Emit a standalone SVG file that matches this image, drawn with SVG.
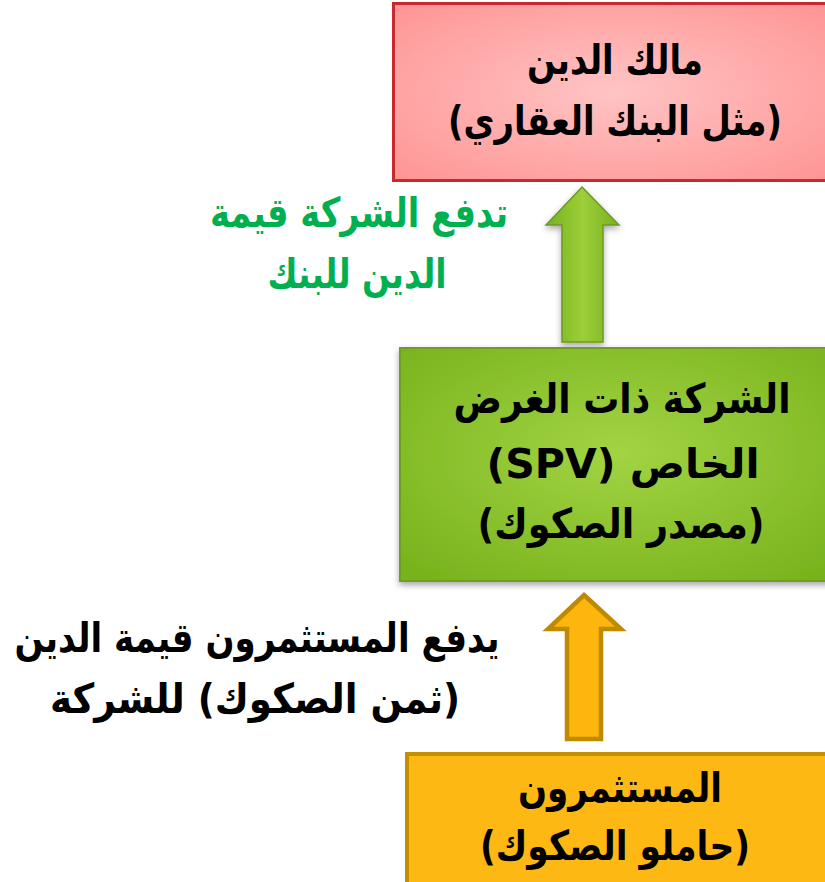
<svg xmlns="http://www.w3.org/2000/svg" width="825" height="882" viewBox="0 0 825 882">
<defs>
<radialGradient id="gRed" cx="0.5" cy="0.5" r="0.7">
<stop offset="0" stop-color="#FFC4C4"/>
<stop offset="1" stop-color="#FF9494"/>
</radialGradient>
<radialGradient id="gGreen" cx="0.5" cy="0.45" r="0.7">
<stop offset="0" stop-color="#A2D443"/>
<stop offset="1" stop-color="#78B21C"/>
</radialGradient>
<linearGradient id="gArrow" x1="0" y1="0" x2="1" y2="0">
<stop offset="0" stop-color="#78B020"/>
<stop offset="0.5" stop-color="#9CCF38"/>
<stop offset="1" stop-color="#78B020"/>
</linearGradient>
<filter id="sh" x="-10%" y="-10%" width="120%" height="125%">
<feDropShadow dx="0" dy="3" stdDeviation="3" flood-color="#000" flood-opacity="0.35"/>
</filter>
</defs>
<style>
.t{font-family:"DejaVu Sans","Noto Sans",sans-serif;font-weight:bold;font-size:41px;text-anchor:middle;direction:rtl}
.blk{fill:#000}
.grn{fill:#00B050}
</style>
<g id="connectors">
<path d="M582,187 L619,225 L603,225 L603,342 L562,342 L562,225 L546,225 Z" fill="url(#gArrow)" stroke="#6B9A22" stroke-width="1.5" filter="url(#sh)"/>
<path d="M584,595 L621,629 L601,629 L601,739 L567,739 L567,629 L548,629 Z" fill="#FDB60E" stroke="#C08A00" stroke-width="4.5" stroke-linejoin="miter"/>
</g>
<g id="node-owner">
<rect x="393.5" y="3.5" width="440" height="177" fill="url(#gRed)" stroke="#C8282E" stroke-width="3"/>
<text class="t blk" x="615" y="74" textLength="176" lengthAdjust="spacingAndGlyphs">مالك الدين</text>
<text class="t blk" x="615" y="135" textLength="334" lengthAdjust="spacingAndGlyphs">(مثل البنك العقاري)</text>
</g>
<g id="label-company-pays">
<text class="t grn" x="359" y="227" textLength="298" lengthAdjust="spacingAndGlyphs">تدفع الشركة قيمة</text>
<text class="t grn" x="357" y="288" textLength="179" lengthAdjust="spacingAndGlyphs">الدين للبنك</text>
</g>
<g id="node-spv">
<rect x="400" y="348" width="440" height="233" fill="url(#gGreen)" stroke="#6E9E22" stroke-width="2" filter="url(#sh)"/>
<text class="t blk" x="622" y="413" textLength="337" lengthAdjust="spacingAndGlyphs">الشركة ذات الغرض</text>
<text class="t blk" x="623" y="478" textLength="273" lengthAdjust="spacingAndGlyphs">الخاص (SPV)</text>
<text class="t blk" x="621" y="538" textLength="287" lengthAdjust="spacingAndGlyphs">(مصدر الصكوك)</text>
</g>
<g id="label-investors-pay">
<text class="t blk" x="257" y="652" textLength="485" lengthAdjust="spacingAndGlyphs">يدفع المستثمرون قيمة الدين</text>
<text class="t blk" x="255" y="713" textLength="410" lengthAdjust="spacingAndGlyphs">(ثمن الصكوك) للشركة</text>
</g>
<g id="node-investors">
<rect x="407" y="754" width="440" height="140" fill="#FDB813" stroke="#C48F00" stroke-width="4"/>
<text class="t blk" x="620" y="802" textLength="204" lengthAdjust="spacingAndGlyphs">المستثمرون</text>
<text class="t blk" x="615" y="860" textLength="270" lengthAdjust="spacingAndGlyphs">(حاملو الصكوك)</text>
</g>
</svg>
